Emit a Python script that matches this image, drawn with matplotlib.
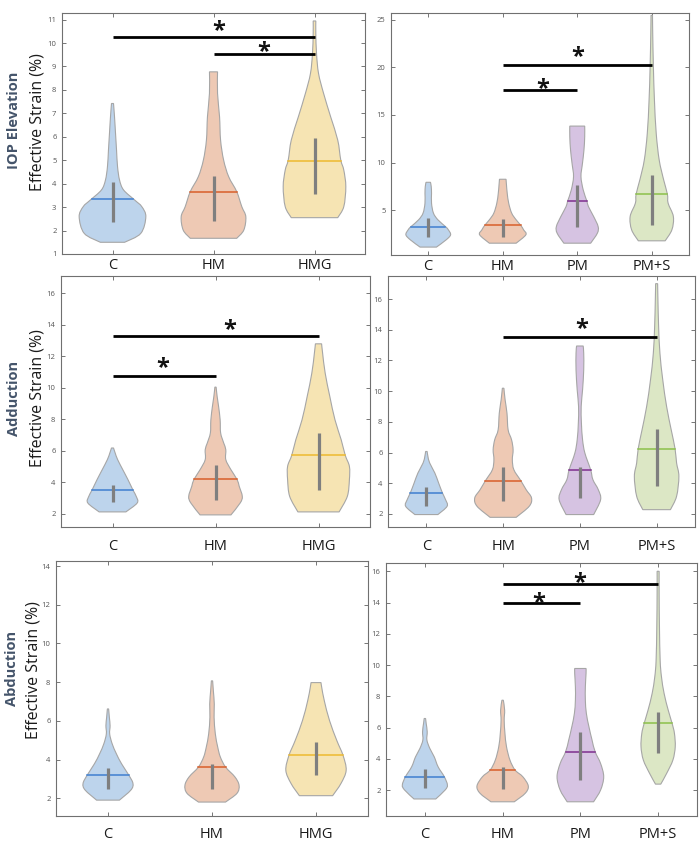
import numpy as np
import matplotlib
matplotlib.use("Agg")
import matplotlib.pyplot as plt
from matplotlib.path import Path
from matplotlib.patches import PathPatch
from matplotlib.transforms import offset_copy

plt.rcParams['font.family'] = ['Open Sans', 'DejaVu Sans']

# ---- data: violin density profiles (level, half-width), median and quartiles ----
# row 1 : IOP elevation
iop_l_groups = ['C', 'HM', 'HMG']
iop_l_levels = [[1.50, 1.88, 2.59, 3.02, 3.30, 3.73, 4.15, 4.72, 5.43, 6.14, 6.85, 7.42],
                [1.67, 2.02, 2.59, 3.02, 3.66, 4.30, 5.01, 5.86, 6.85, 7.85, 8.77],
                [2.55, 3.02, 3.87, 4.58, 5.01, 5.86, 6.85, 7.85, 8.70, 9.55, 10.40, 10.94]]
iop_l_width = [[0.12, 0.28, 0.33, 0.29, 0.22, 0.11, 0.07, 0.05, 0.04, 0.03, 0.02, 0.01],
               [0.23, 0.30, 0.32, 0.28, 0.23, 0.15, 0.10, 0.07, 0.06, 0.04, 0.04],
               [0.23, 0.29, 0.31, 0.29, 0.26, 0.23, 0.16, 0.09, 0.04, 0.02, 0.013, 0.013]]
iop_l_median = [3.36, 3.66, 4.98]
iop_l_q1 = [2.38, 2.42, 3.56]
iop_l_q3 = [4.08, 4.34, 5.93]

iop_r_groups = ['C', 'HM', 'PM', 'PM+S']
iop_r_levels = [[1.13, 1.89, 2.42, 2.94, 3.29, 3.99, 4.69, 5.73, 6.78, 7.48, 7.93],
                [1.54, 2.42, 2.94, 3.43, 3.99, 4.69, 5.73, 6.78, 7.65, 8.25],
                [1.54, 2.59, 3.29, 4.34, 5.38, 5.94, 7.13, 8.53, 9.92, 11.32, 12.71, 13.83],
                [1.79, 2.94, 4.34, 5.73, 6.68, 8.18, 10.27, 13.06, 16.55, 20.04, 23.53, 25.45]]
iop_r_width = [[0.11, 0.24, 0.30, 0.27, 0.23, 0.13, 0.07, 0.044, 0.044, 0.04, 0.03],
               [0.18, 0.31, 0.28, 0.24, 0.18, 0.12, 0.08, 0.06, 0.05, 0.044],
               [0.18, 0.27, 0.28, 0.22, 0.15, 0.13, 0.08, 0.05, 0.07, 0.09, 0.10, 0.10],
               [0.18, 0.27, 0.29, 0.22, 0.21, 0.16, 0.10, 0.06, 0.036, 0.022, 0.013, 0.01]]
iop_r_median = [3.29, 3.43, 5.94, 6.68]
iop_r_q1 = [2.14, 2.17, 3.29, 3.40]
iop_r_q3 = [4.16, 4.06, 7.62, 8.70]

# row 2 : adduction
add_l_groups = ['C', 'HM', 'HMG']
add_l_levels = [[2.11, 2.68, 3.10, 3.48, 4.16, 4.79, 5.43, 5.85, 6.17],
                [1.92, 2.68, 3.10, 3.74, 4.16, 4.79, 5.43, 6.06, 6.48, 7.12, 7.96, 8.81, 9.44, 10.04],
                [2.11, 3.10, 4.16, 5.00, 5.70, 6.70, 7.96, 9.44, 10.92, 12.19, 12.79]]
add_l_width = [[0.13, 0.24, 0.23, 0.20, 0.15, 0.10, 0.05, 0.026, 0.01],
               [0.15, 0.24, 0.26, 0.23, 0.21, 0.15, 0.10, 0.10, 0.08, 0.05, 0.045, 0.03, 0.016, 0.006],
               [0.20, 0.28, 0.30, 0.30, 0.26, 0.22, 0.16, 0.11, 0.065, 0.04, 0.03]]
add_l_median = [3.48, 4.20, 5.70]
add_l_q1 = [2.72, 2.89, 3.52]
add_l_q3 = [3.84, 5.07, 7.12]

add_r_groups = ['C', 'HM', 'PM', 'PM+S']
add_r_levels = [[1.96, 2.50, 2.93, 3.36, 4.01, 4.67, 5.32, 5.75, 6.07],
                [1.78, 2.50, 3.04, 3.58, 4.17, 4.88, 5.53, 6.18, 6.83, 7.48, 8.57, 9.43, 10.19],
                [1.96, 2.93, 3.58, 4.23, 4.88, 5.97, 6.83, 7.92, 9.00, 10.08, 11.38, 12.47, 12.94],
                [2.28, 3.15, 4.45, 5.32, 6.25, 7.48, 9.00, 10.73, 12.47, 14.20, 15.93, 17.0]]
add_r_width = [[0.15, 0.27, 0.25, 0.21, 0.16, 0.11, 0.043, 0.02, 0.01],
               [0.17, 0.34, 0.37, 0.30, 0.23, 0.14, 0.12, 0.13, 0.11, 0.065, 0.05, 0.026, 0.01],
               [0.18, 0.27, 0.24, 0.17, 0.14, 0.065, 0.035, 0.02, 0.017, 0.035, 0.05, 0.05, 0.043],
               [0.18, 0.26, 0.29, 0.26, 0.24, 0.19, 0.13, 0.08, 0.043, 0.026, 0.017, 0.013]]
add_r_median = [3.36, 4.12, 4.88, 6.25]
add_r_q1 = [2.54, 2.82, 3.04, 3.84]
add_r_q3 = [3.75, 5.03, 5.03, 7.53]

# row 3 : abduction
abd_l_groups = ['C', 'HM', 'HMG']
abd_l_levels = [[1.91, 2.43, 2.77, 3.20, 3.79, 4.31, 4.82, 5.33, 5.76, 6.19, 6.62],
                [1.81, 2.26, 2.68, 3.11, 3.62, 4.14, 4.65, 5.33, 6.19, 6.87, 7.56, 8.07],
                [2.14, 2.77, 3.45, 4.22, 4.99, 6.02, 7.04, 7.73, 7.98]]
abd_l_width = [[0.11, 0.22, 0.24, 0.20, 0.13, 0.08, 0.04, 0.016, 0.02, 0.013, 0.006],
               [0.13, 0.24, 0.26, 0.22, 0.13, 0.08, 0.055, 0.032, 0.02, 0.022, 0.013, 0.006],
               [0.16, 0.24, 0.29, 0.26, 0.20, 0.13, 0.08, 0.055, 0.048]]
abd_l_median = [3.20, 3.62, 4.22]
abd_l_q1 = [2.51, 2.51, 3.20]
abd_l_q3 = [3.59, 3.76, 4.91]

abd_r_groups = ['C', 'HM', 'PM', 'PM+S']
abd_r_levels = [[1.43, 2.00, 2.32, 2.85, 3.49, 4.13, 4.66, 5.20, 5.73, 6.26, 6.58],
                [1.25, 1.79, 2.26, 2.85, 3.28, 3.92, 4.77, 5.62, 6.47, 7.11, 7.75],
                [1.25, 2.00, 2.85, 3.70, 4.45, 5.20, 6.05, 6.90, 7.75, 8.61, 9.46, 9.78],
                [2.38, 3.07, 3.92, 4.77, 5.62, 6.26, 7.11, 8.18, 9.25, 10.31, 12.44, 14.57, 16.0]]
abd_r_width = [[0.14, 0.26, 0.29, 0.25, 0.17, 0.12, 0.064, 0.026, 0.03, 0.017, 0.009],
               [0.15, 0.29, 0.33, 0.26, 0.16, 0.094, 0.05, 0.03, 0.02, 0.026, 0.009],
               [0.17, 0.26, 0.30, 0.26, 0.19, 0.15, 0.11, 0.077, 0.064, 0.064, 0.073, 0.073],
               [0.034, 0.11, 0.19, 0.22, 0.21, 0.18, 0.13, 0.077, 0.043, 0.026, 0.017, 0.013, 0.013]]
abd_r_median = [2.85, 3.28, 4.45, 6.26]
abd_r_q1 = [2.11, 2.04, 2.64, 4.39]
abd_r_q3 = [3.32, 3.45, 5.69, 7.01]

# significance brackets: (from, to, height, star x, star y)
iop_l_sig = [(1, 3, 10.25, 2.05, 10.67), (2, 3, 9.55, 2.5, 9.77)]
iop_r_sig = [(2, 4, 20.2, 3.0, 21.46), (2, 3, 17.65, 2.53, 18.1)]
add_l_sig = [(1, 3, 13.29, 2.14, 13.94), (1, 2, 10.77, 1.49, 11.49)]
add_r_sig = [(2, 4, 13.55, 3.02, 14.31)]
abd_l_sig = []
abd_r_sig = [(2, 4, 15.17, 2.99, 15.53), (2, 3, 14.0, 2.47, 14.25)]

fill_col = {'C': '#BDD4EC', 'HM': '#EEC9B4', 'HMG': '#F6E4B3', 'PM': '#D6C3E2', 'PM+S': '#DCE7C5'}
med_col = {'C': '#3F7FD0', 'HM': '#D95F2A', 'HMG': '#EDB92F', 'PM': '#7E2F8E', 'PM+S': '#8CC04A'}

W, H = 700, 844
fig = plt.figure(figsize=(W / 100, H / 100), dpi=100)


def add_ax(l, t, r, b):
    return fig.add_axes([l / W, 1 - b / H, (r - l) / W, (b - t) / H])


def smooth_side(pts):
    # catmull-rom through the outline points, as cubic bezier path pieces
    verts, codes = [], []
    n = len(pts)
    for i in range(n - 1):
        p0 = pts[max(i - 1, 0)]
        p1 = pts[i]
        p2 = pts[i + 1]
        p3 = pts[min(i + 2, n - 1)]
        c1 = p1 + (p2 - p0) / 6.0
        c2 = p2 - (p3 - p1) / 6.0
        verts += [c1, c2, p2]
        codes += [Path.CURVE4] * 3
    return verts, codes


def violin_path(x, lv, wd):
    right = np.column_stack([x + wd, lv])
    left = np.column_stack([x - wd, lv])[::-1]
    verts = [left[-1], right[0]]
    codes = [Path.MOVETO, Path.LINETO]
    v, c = smooth_side(right)
    verts += v
    codes += c
    verts.append(left[0])
    codes.append(Path.LINETO)
    v, c = smooth_side(left)
    verts += v
    codes += c
    verts.append(left[-1])
    codes.append(Path.CLOSEPOLY)
    return Path(np.array(verts), codes)


def draw_panel(ax, groups, levels, width, median, q1, q3, sig, ylim, yticks, xpad):
    for i, g in enumerate(groups):
        x = i + 1
        lv = np.array(levels[i])
        wd = np.array(width[i])
        ax.add_patch(PathPatch(violin_path(x, lv, wd), facecolor=fill_col[g],
                               edgecolor='#A6A6A6', linewidth=0.8, zorder=2))
        wm = np.interp(median[i], lv, wd)
        ax.plot([x - wm, x + wm], [median[i], median[i]], color=med_col[g], lw=1.1, zorder=3)
        ax.plot([x, x], [q1[i], q3[i]], color='#7F7F7F', lw=2.3, solid_capstyle='butt', zorder=4)
    star_tr = offset_copy(ax.transData, fig=fig, x=0, y=-3, units='points')
    for a, b, h, sx, sy in sig:
        ax.plot([a, b], [h, h], color='black', lw=2.0, solid_capstyle='butt', zorder=5)
        ax.text(sx, sy, '*', fontsize=17, fontweight='bold', ha='center', va='center',
                zorder=6, color='#111111', transform=star_tr)
    ax.set_xlim(0.5, len(groups) + 0.5)
    ax.set_ylim(*ylim)
    ax.set_xticks(range(1, len(groups) + 1))
    ax.set_xticklabels(groups)
    ax.set_yticks(yticks)
    ax.tick_params(direction='in', top=True, right=True, length=3, width=0.6,
                   color='#606060')
    ax.tick_params(axis='y', labelsize=5.5, labelcolor='#555555', pad=4)
    ax.tick_params(axis='x', labelsize=10.5, labelcolor='#1A1A1A', pad=xpad)
    for s in ax.spines.values():
        s.set_color('#707070')
        s.set_linewidth(0.8)


ax1 = add_ax(62, 13, 365, 254)
draw_panel(ax1, iop_l_groups, iop_l_levels, iop_l_width, iop_l_median, iop_l_q1, iop_l_q3,
           iop_l_sig, (1, 11.28), range(1, 12), 3)
ax2 = add_ax(391, 13, 689, 255)
draw_panel(ax2, iop_r_groups, iop_r_levels, iop_r_width, iop_r_median, iop_r_q1, iop_r_q3,
           iop_r_sig, (0.3, 25.7), [5, 10, 15, 20, 25], 3)
ax3 = add_ax(61, 276, 370, 527)
draw_panel(ax3, add_l_groups, add_l_levels, add_l_width, add_l_median, add_l_q1, add_l_q3,
           add_l_sig, (1.15, 17.1), range(2, 17, 2), 9)
ax4 = add_ax(388, 276, 695, 527)
draw_panel(ax4, add_r_groups, add_r_levels, add_r_width, add_r_median, add_r_q1, add_r_q3,
           add_r_sig, (1.15, 17.5), range(2, 17, 2), 9)
ax5 = add_ax(56, 561, 368, 816)
draw_panel(ax5, abd_l_groups, abd_l_levels, abd_l_width, abd_l_median, abd_l_q1, abd_l_q3,
           abd_l_sig, (1.09, 14.26), range(2, 15, 2), 8)
ax6 = add_ax(386, 563, 697, 816)
draw_panel(ax6, abd_r_groups, abd_r_levels, abd_r_width, abd_r_median, abd_r_q1, abd_r_q3,
           abd_r_sig, (0.34, 16.53), range(2, 17, 2), 8)

# row titles and y labels
row_titles = ['IOP Elevation', 'Adduction', 'Abduction']
title_pos = [(14, 120), (14, 398), (12, 668)]
label_pos = [(38, 122), (38, 398), (34, 670)]
for t, (tx, ty), (lx, ly) in zip(row_titles, title_pos, label_pos):
    fig.text(tx / W, 1 - ty / H, t, rotation=90, ha='center', va='center',
             fontsize=10.5, fontweight='bold', color='#44546A')
    fig.text(lx / W, 1 - ly / H, 'Effective Strain (%)', rotation=90, ha='center',
             va='center', fontsize=11.5, color='#1A1A1A')

fig.savefig('out.png', dpi=100)
